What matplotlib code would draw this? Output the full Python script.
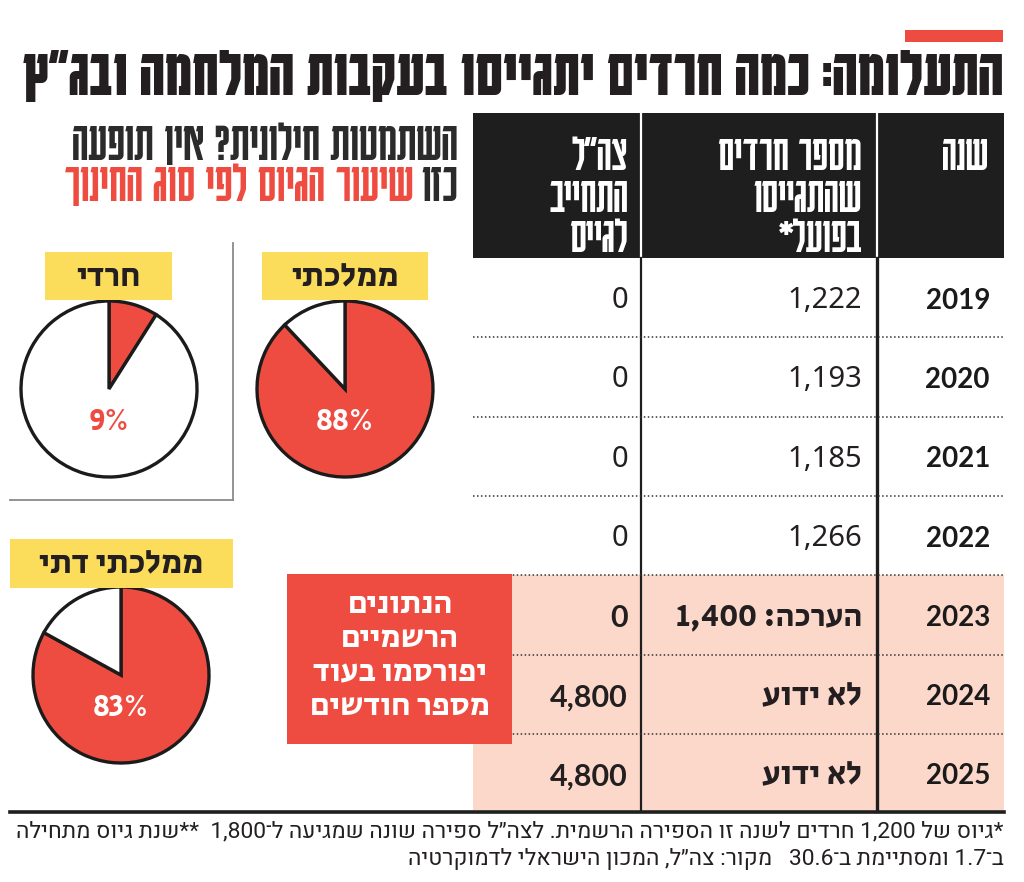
import re
import matplotlib
matplotlib.use("Agg")
import matplotlib.pyplot as plt
from matplotlib.patches import Rectangle

# ---------------- data ----------------
title = "התעלומה: כמה חרדים יתגייסו בעקבות המלחמה ובג״ץ"
subtitle_1 = "השתמטות חילונית? אין תופעה"
subtitle_2a = "כזו"
subtitle_2b = "שיעור הגיוס לפי סוג החינוך"

pie_labels = ["ממלכתי", "חרדי", "ממלכתי דתי"]
pie_values = [88, 9, 83]

col_headers = [["שנה"], ["מספר חרדים", "שהתגייסו", "בפועל*"], ["צה״ל", "התחייב", "לגייס"]]
years = [2019, 2020, 2021, 2022, 2023, 2024, 2025]
actual = [1222, 1193, 1185, 1266, 1400, None, None]
actual_estimate = [False, False, False, False, True, False, False]
pledged = [0, 0, 0, 0, 0, 4800, 4800]
unknown_label = "לא ידוע"
estimate_label = "הערכה:"
official_note = ["הנתונים", "הרשמיים", "יפורסמו בעוד", "מספר חודשים"]

footnote_1 = "*גיוס של 1,200 חרדים לשנה זו הספירה הרשמית. לצה״ל ספירה שונה שמגיעה ל־1,800  **שנת גיוס מתחילה"
footnote_2 = "ב־1.7 ומסתיימת ב־30.6   מקור: צה״ל, המכון הישראלי לדמוקרטיה"

# ---------------- style ----------------
RED = "#ee4c40"
PINK = "#fcd8cb"
YELLOW = "#fbdd5b"
DARK = "#231f20"
GREY = "#8a8a8a"
HEAD = ["Karantina", "DejaVu Sans"]
COND = ["Karantina", "DejaVu Sans"]
BOLDHEB = ["Secular One", "DejaVu Sans"]
NUM = ["Noto Sans", "DejaVu Sans"]
NUMB = ["Lato", "DejaVu Sans"]
NOTE = ["Heebo", "DejaVu Sans"]

_mirror = str.maketrans("()[]", ")(][")


def vis(s):
    """Logical Hebrew -> visual order (simple bidi)."""
    toks = re.findall(r"[0-9]+(?:[.,][0-9]+)*|[^0-9]+", s)
    out = []
    for t in reversed(toks):
        if t[0].isdigit():
            out.append(t)
        else:
            out.append(t[::-1].translate(_mirror))
    return "".join(out)


W, H = 1024, 882
fig = plt.figure(figsize=(W / 100, H / 100), dpi=100)
fig.patch.set_facecolor("white")
renderer = fig.canvas.get_renderer()


def fig_box(x0, y0, x1, y1):
    return [x0 / W, 1 - y1 / H, (x1 - x0) / W, (y1 - y0) / H]


# ---------------- pies ----------------
pie_geom = [(345, 389, 88), (109, 389, 88), (121, 675, 88)]
for (cx, cy, r), lab, val in zip(pie_geom, pie_labels, pie_values):
    pad = 1.05
    pax = fig.add_axes(fig_box(cx - r * pad, cy - r * pad, cx + r * pad, cy + r * pad))
    pax.pie([val, 100 - val], colors=[RED, "white"], startangle=90, counterclock=False,
            radius=1, wedgeprops=dict(edgecolor="#1b1b1b", linewidth=2.4))
    pax.set_xlim(-pad, pad)
    pax.set_ylim(-pad, pad)
    pax.set_aspect("equal")
    pax.axis("off")
    pax.text(0, -0.37, f"{val}%", ha="center", va="center", fontsize=22,
             family=BOLDHEB, color="white" if val > 50 else RED)

# ---------------- overlay axes in pixel coords ----------------
ax = fig.add_axes([0, 0, 1, 1], zorder=5)
ax.set_xlim(0, W)
ax.set_ylim(H, 0)
ax.axis("off")
ax.patch.set_visible(False)


def text_w(t):
    return t.get_window_extent(renderer).width


def fit(t, target):
    w = text_w(t)
    t.set_fontsize(t.get_fontsize() * target / w)
    return t


# title bar + title
ax.add_patch(Rectangle((905, 30), 98, 12, color=RED, lw=0))
tt = ax.text(1003, 76, vis(title), ha="right", va="center", family=HEAD,
             weight="bold", fontsize=40, color=DARK)
fit(tt, 983)

# subtitle
s1 = ax.text(458, 144, vis(subtitle_1), ha="right", va="center", family=COND,
             fontsize=30, color="#2b2b2b")
fit(s1, 385)
fs = s1.get_fontsize()
s2a = ax.text(458, 185, vis(subtitle_2a), ha="right", va="center", family=COND,
              fontsize=fs, color="#2b2b2b")
wa = text_w(s2a)
ax.text(458 - wa - 8, 185, vis(subtitle_2b), ha="right", va="center", family=COND,
        fontsize=fs, color=RED)

# pie label boxes
label_boxes = [(262, 252, 428, 300), (45, 252, 172, 300), (10, 539, 233, 588)]
for (x0, y0, x1, y1), lab in zip(label_boxes, pie_labels):
    ax.add_patch(Rectangle((x0, y0), x1 - x0, y1 - y0, color=YELLOW, lw=0))
    ax.text((x0 + x1) / 2, (y0 + y1) / 2 + 1, vis(lab), ha="center", va="center",
            family=BOLDHEB, fontsize=24, color=DARK)

# grey separators
ax.plot([233, 233], [243, 500], color=GREY, lw=1.3)
ax.plot([10, 233], [500, 500], color=GREY, lw=1.3)

# ---------------- table ----------------
TX0, TX1 = 473, 1004
SEP1, SEP2 = 641, 877
HY0, HY1 = 113, 258
ROW0, ROWH = 258, 79.3
n = len(years)

# pink band for official-not-yet rows
first_pink = years.index(2023)
ax.add_patch(Rectangle((TX0, ROW0 + first_pink * ROWH), TX1 - TX0,
                       810 - (ROW0 + first_pink * ROWH), color=PINK, lw=0))

# header
ax.add_patch(Rectangle((TX0, HY0), TX1 - TX0, HY1 - HY0, color="#1e1e1e", lw=0))
ax.plot([SEP1, SEP1], [HY0, HY1], color="white", lw=1.6)
ax.plot([SEP2, SEP2], [HY0, HY1], color="white", lw=1.6)
hdr_right = [988, 862, 628]
hdr_lines_y = [156, 197, 237]
for xr, lines in zip(hdr_right, col_headers):
    for yy, ln in zip(hdr_lines_y, lines):
        ax.text(xr, yy, vis(ln), ha="right", va="center", family=COND,
                fontsize=37, color="white")

# body vertical lines
ax.plot([SEP1, SEP1], [HY1, 811], color="#1e1e1e", lw=1.6)
ax.plot([SEP2, SEP2], [HY1, 811], color="#1e1e1e", lw=2.4)

# dotted row separators
for i in range(1, n):
    y = ROW0 + i * ROWH
    ax.plot([TX0, TX1], [y, y], color="#333333", lw=1.1, linestyle=(0, (1, 1.6)))

# bottom rule
ax.plot([10, TX1], [812, 812], color="#1e1e1e", lw=2.6)

for i, yr in enumerate(years):
    yc = ROW0 + (i + 0.5) * ROWH + 3
    bold = yr >= 2023
    ax.text(990, yc, str(yr), ha="right", va="center", family=NUMB, weight="bold",
            fontsize=20, color="#1a1a1a", zorder=8)
    # actual
    if actual[i] is None:
        ax.text(862, yc - 1, vis(unknown_label), ha="right", va="center", family=BOLDHEB,
                fontsize=24, color=DARK)
    elif actual_estimate[i]:
        ax.text(862, yc - 1, vis(f"{estimate_label} {actual[i]:,}"), ha="right", va="center",
                family=BOLDHEB, fontsize=23, color=DARK)
    else:
        ax.text(862, yc, f"{actual[i]:,}", ha="right", va="center", family=NUM,
                fontsize=21, color=DARK)
    # pledged
    if bold:
        ax.text(628, yc, f"{pledged[i]:,}", ha="right", va="center", family=NUMB,
                weight="bold", fontsize=22, color=DARK)
    else:
        ax.text(628, yc, f"{pledged[i]:,}", ha="right", va="center", family=NUM,
                fontsize=21, color=DARK)

# red note box
ax.add_patch(Rectangle((287, 574), 225, 170, color=RED, lw=0, zorder=6))
for k, ln in enumerate(official_note):
    ax.text(400, 605 + k * 34, vis(ln), ha="center", va="center", family=BOLDHEB,
            fontsize=23, color="white", zorder=7)

# footnotes
f1 = ax.text(1004, 832, vis(footnote_1), ha="right", va="center", family=NOTE,
             fontsize=14, color=DARK)
fit(f1, 994)
ax.text(1004, 859, vis(footnote_2), ha="right", va="center", family=NOTE,
        fontsize=f1.get_fontsize(), color=DARK)

fig.savefig("out.png", dpi=100)
